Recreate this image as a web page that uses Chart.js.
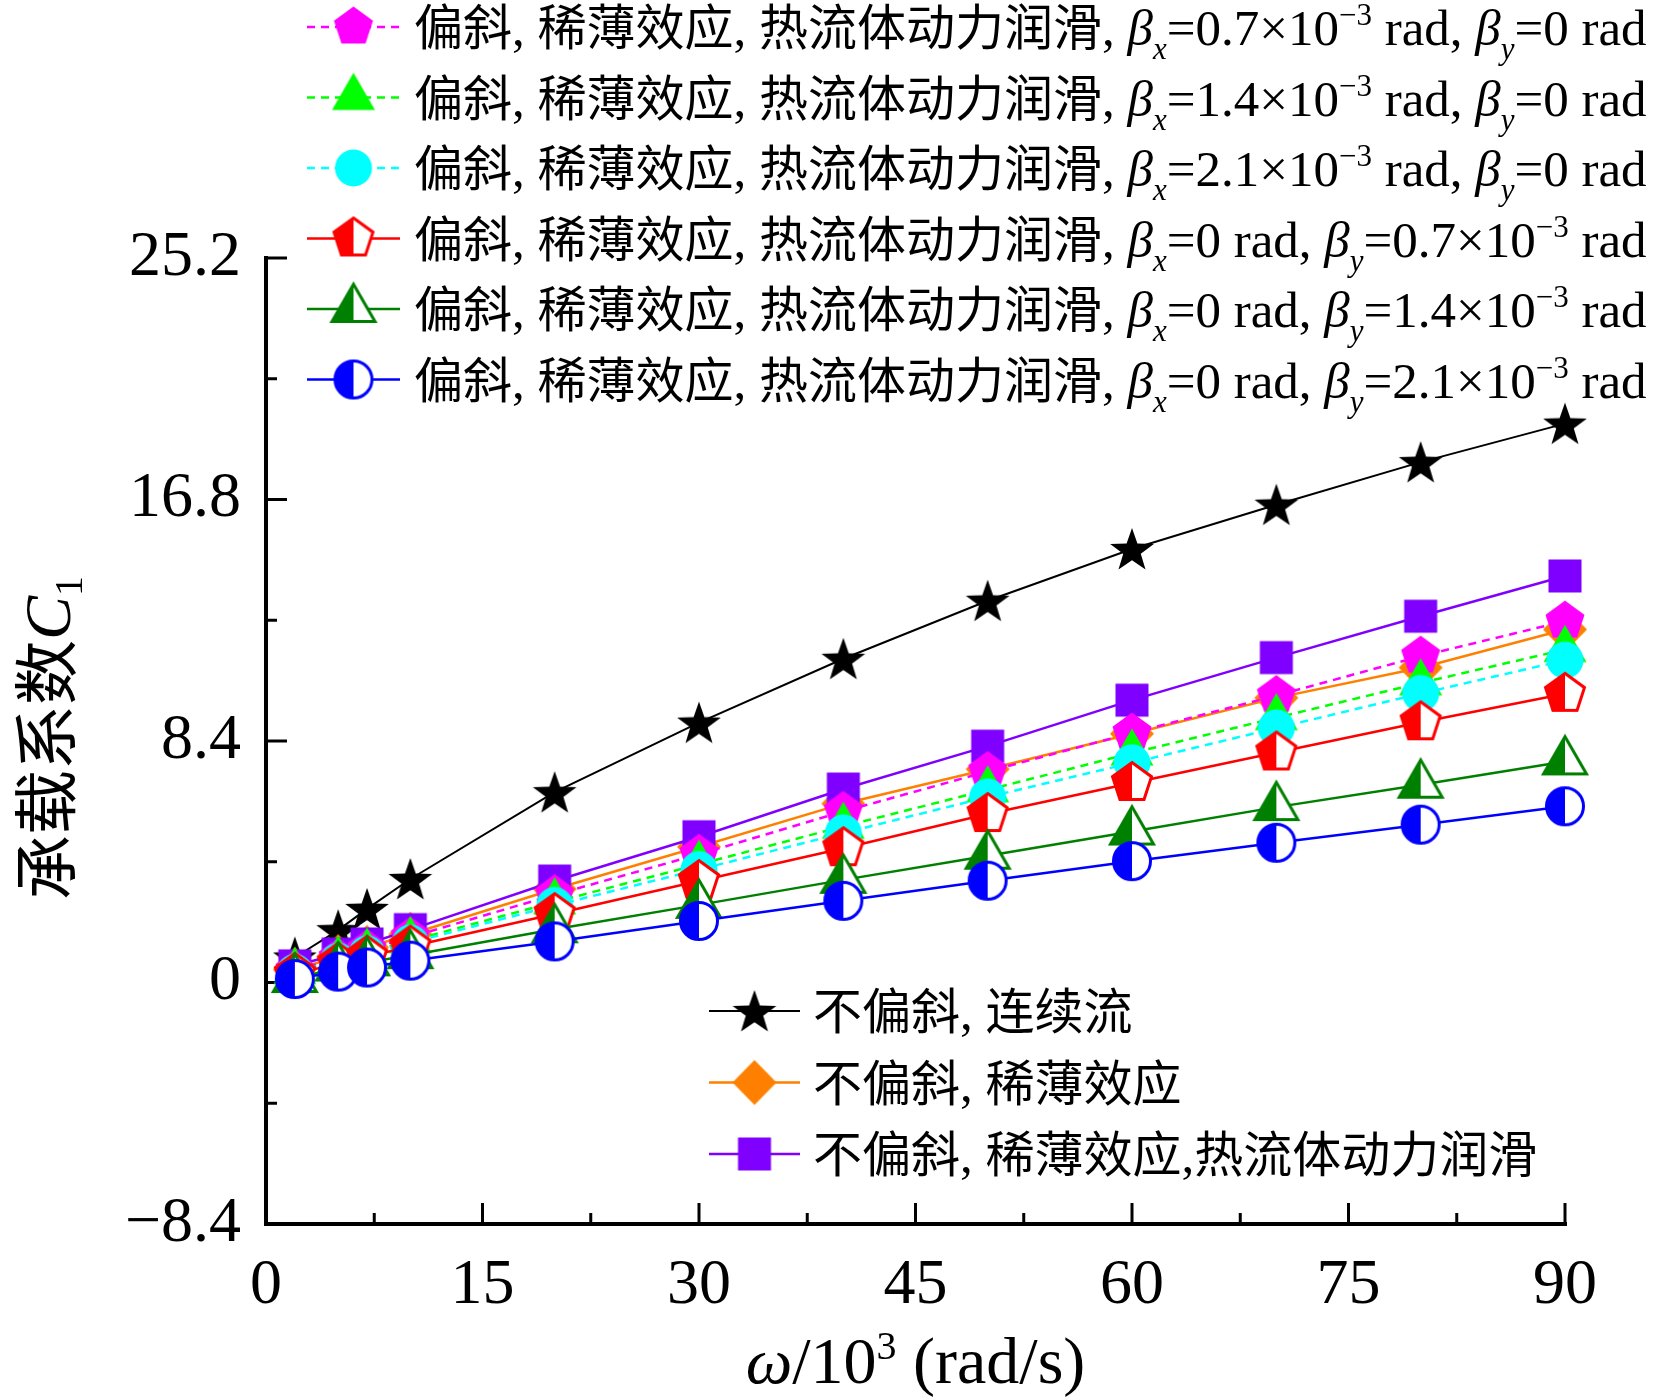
<!DOCTYPE html>
<html>
<head>
<meta charset="utf-8">
<script src="https://cdn.jsdelivr.net/npm/chart.js@4.4.1/dist/chart.umd.min.js"></script>
<style>
html, body { margin: 0; padding: 0; background: #fff; }
#wrap { width: 1659px; height: 1398px; }
</style>
</head>
<body>
<div id="wrap"><canvas id="chart" width="1659" height="1398"></canvas></div>
<script>
// rotational speed, omega / 10^3 (rad/s)
const omega = [2, 5, 7, 10, 20, 30, 40, 50, 60, 70, 80, 90];

// load capacity coefficient C1 for each case
const c1Continuum = [0.87, 1.82, 2.56, 3.60, 6.62, 9.04, 11.26, 13.28, 15.08, 16.62, 18.10, 19.44];
const c1Rarefied  = [0.45, 0.90, 1.22, 1.68, 3.25, 4.72, 6.22, 7.42, 8.65, 9.90, 10.95, 12.28];
const c1Thermal   = [0.58, 0.99, 1.34, 1.84, 3.53, 5.07, 6.73, 8.22, 9.82, 11.30, 12.74, 14.14];
const c1Bx07 = [0.42, 0.85, 1.15, 1.58, 3.05, 4.46, 5.95, 7.34, 8.68, 9.98, 11.35, 12.57];
const c1Bx14 = [0.38, 0.78, 1.05, 1.45, 2.80, 4.11, 5.43, 6.70, 7.98, 9.21, 10.42, 11.58];
const c1Bx21 = [0.35, 0.74, 1.00, 1.38, 2.68, 3.93, 5.20, 6.45, 7.64, 8.85, 10.05, 11.21];
const c1By07 = [0.30, 0.66, 0.90, 1.25, 2.38, 3.53, 4.67, 5.86, 6.94, 8.00, 9.05, 10.04];
const c1By14 = [0.12, 0.52, 0.70, 0.95, 1.85, 2.70, 3.57, 4.41, 5.25, 6.10, 6.88, 7.69];
const c1By21 = [0.12, 0.38, 0.52, 0.76, 1.43, 2.14, 2.84, 3.54, 4.22, 4.86, 5.49, 6.13];

// axis ticks
const xTicks = [0, 15, 30, 45, 60, 75, 90];
const xMinor = [7.5, 22.5, 37.5, 52.5, 67.5, 82.5];
const yTicks = [-8.4, 0, 8.4, 16.8, 25.2];
const yTickLabels = ['\u22128.4', '0', '8.4', '16.8', '25.2'];
const yMinor = [-4.2, 4.2, 12.6, 21.0];

// legend texts
const tiltPrefix = '偏斜, 稀薄效应, 热流体动力润滑, ';
const betaX = ['0.7', '1.4', '2.1', '0', '0', '0'];
const betaY = ['0', '0', '0', '0.7', '1.4', '2.1'];
const plainLabels = ['不偏斜, 连续流', '不偏斜, 稀薄效应', '不偏斜, 稀薄效应,热流体动力润滑'];

const CJK = '"Noto Sans CJK SC"';
const SERIF = '"Liberation Serif"';
const CS = 49;   // legend CJK size
const LS = 51;   // legend latin size
const SS = 31;   // sub / superscript size

// marker shapes
function shapePath(g, kind, c) {
    g.beginPath();
    if (kind === 'circle') {
        g.arc(c, c, 18.5, 0, Math.PI * 2);
    } else if (kind === 'square') {
        g.rect(c - 16.5, c - 16.5, 33, 33);
    } else if (kind === 'diamond') {
        g.moveTo(c, c - 22.5); g.lineTo(c + 22, c); g.lineTo(c, c + 22.5); g.lineTo(c - 22, c);
    } else if (kind === 'triangle') {
        const a = 43, h = a * Math.sqrt(3) / 2;
        g.moveTo(c, c - 2 * h / 3); g.lineTo(c + a / 2, c + h / 3); g.lineTo(c - a / 2, c + h / 3);
    } else if (kind === 'pentagon') {
        for (let k = 0; k < 5; k++) {
            const t = (-90 + 72 * k) * Math.PI / 180;
            g.lineTo(c + 20.5 * Math.cos(t), c + 20.5 * Math.sin(t));
        }
    } else if (kind === 'star') {
        for (let k = 0; k < 10; k++) {
            const r = k % 2 ? 23 * 0.4 : 23;
            const t = (-90 + 36 * k) * Math.PI / 180;
            g.lineTo(c + r * Math.cos(t), c + 2 + r * Math.sin(t));
        }
    }
    g.closePath();
}

function makeMarker(kind, color, half) {
    const s = 60, c = s / 2;
    const cv = document.createElement('canvas');
    cv.width = s; cv.height = s;
    const g = cv.getContext('2d');
    shapePath(g, kind, c);
    if (!half) {
        g.fillStyle = color;
        g.fill();
        return cv;
    }
    g.fillStyle = '#fff';
    g.fill();
    g.save();
    g.clip();
    g.fillStyle = color;
    g.fillRect(0, 0, c, s);
    g.restore();
    shapePath(g, kind, c);
    g.strokeStyle = color;
    g.lineWidth = 3;
    g.stroke();
    return cv;
}

// dataset index 0 is drawn on top
const series = [
    { values: c1By21, color: '#0000ff', kind: 'circle', half: true, dash: [], width: 2.5, legend: 5 },
    { values: c1By14, color: '#008000', kind: 'triangle', half: true, dash: [], width: 2.5, legend: 4 },
    { values: c1By07, color: '#ff0000', kind: 'pentagon', half: true, dash: [], width: 2.5, legend: 3 },
    { values: c1Bx21, color: '#00ffff', kind: 'circle', half: false, dash: [8, 6], width: 2.5, legend: 2 },
    { values: c1Bx14, color: '#00ff00', kind: 'triangle', half: false, dash: [8, 6], width: 2.5, legend: 1 },
    { values: c1Bx07, color: '#ff00ff', kind: 'pentagon', half: false, dash: [8, 6], width: 2.5, legend: 0 },
    { values: c1Thermal, color: '#8000ff', kind: 'square', half: false, dash: [], width: 2.5, legend: 8 },
    { values: c1Rarefied, color: '#ff8000', kind: 'diamond', half: false, dash: [], width: 2.5, legend: 7 },
    { values: c1Continuum, color: '#000000', kind: 'star', half: false, dash: [], width: 2, legend: 6 }
];
series.forEach(s => { s.img = makeMarker(s.kind, s.color, s.half); });

// rich text helpers
function splitRuns(str) {
    const parts = [];
    for (const ch of str) {
        const f = /[\u3000-\u9fff\uff00-\uffef]/.test(ch) ? CS + 'px ' + CJK : LS + 'px ' + SERIF;
        const last = parts[parts.length - 1];
        if (last && last.f === f) last.t += ch; else parts.push({ t: ch, f: f });
    }
    return parts;
}

function valueParts(v) {
    const lat = LS + 'px ' + SERIF;
    if (v === '0') return [{ t: '=0 rad', f: lat }];
    return [{ t: '=' + v + '\u00d710', f: lat }, { t: '\u22123', f: SS + 'px ' + SERIF, dy: -20 }, { t: ' rad', f: lat }];
}

function tiltParts(i) {
    const it = 'italic ' + LS + 'px ' + SERIF;
    const sub = 'italic ' + SS + 'px ' + SERIF;
    return [
        ...splitRuns(tiltPrefix),
        { t: '\u03b2', f: it }, { t: 'x', f: sub, dy: 14 },
        ...valueParts(betaX[i]),
        { t: ', ', f: LS + 'px ' + SERIF },
        { t: '\u03b2', f: it }, { t: 'y', f: sub, dy: 14 },
        ...valueParts(betaY[i])
    ];
}

function measureRich(ctx, parts) {
    let w = 0;
    parts.forEach(p => { ctx.font = p.f; w += ctx.measureText(p.t).width; });
    return w;
}

function drawRich(ctx, parts, x, y) {
    let cx = x;
    parts.forEach(p => {
        ctx.font = p.f;
        ctx.fillText(p.t, cx, y + (p.dy || 0));
        cx += ctx.measureText(p.t).width;
    });
}

function legendRow(ctx, s, x0, x1, y, textX, parts) {
    ctx.save();
    ctx.strokeStyle = s.color;
    ctx.lineWidth = s.width;
    ctx.setLineDash(s.dash);
    ctx.beginPath();
    ctx.moveTo(x0, y);
    ctx.lineTo(x1, y);
    ctx.stroke();
    ctx.restore();
    ctx.drawImage(s.img, (x0 + x1) / 2 - s.img.width / 2, y - s.img.height / 2);
    ctx.fillStyle = '#000';
    ctx.textBaseline = 'alphabetic';
    drawRich(ctx, parts, textX, y + 18);
}

const whiteBg = {
    id: 'whiteBg',
    beforeDraw(chart) {
        const ctx = chart.ctx;
        ctx.save();
        ctx.fillStyle = '#fff';
        ctx.fillRect(0, 0, chart.width, chart.height);
        ctx.restore();
    }
};

// axis lines with inward major and minor ticks
const axesPlugin = {
    id: 'axes',
    beforeDatasetsDraw(chart) {
        const { ctx, chartArea: a, scales: { x, y } } = chart;
        const top = y.getPixelForValue(yTicks[yTicks.length - 1]);
        const right = x.getPixelForValue(xTicks[xTicks.length - 1]);
        ctx.save();
        ctx.strokeStyle = '#000';
        ctx.lineWidth = 4;
        ctx.lineCap = 'square';
        ctx.beginPath();
        ctx.moveTo(a.left, top);
        ctx.lineTo(a.left, a.bottom);
        ctx.lineTo(right, a.bottom);
        ctx.stroke();
        ctx.lineCap = 'butt';
        ctx.lineWidth = 3;
        const hTick = (v, len) => {
            const py = y.getPixelForValue(v);
            ctx.beginPath(); ctx.moveTo(a.left, py); ctx.lineTo(a.left + len, py); ctx.stroke();
        };
        const vTick = (v, len) => {
            const px = x.getPixelForValue(v);
            ctx.beginPath(); ctx.moveTo(px, a.bottom); ctx.lineTo(px, a.bottom - len); ctx.stroke();
        };
        yTicks.forEach(v => hTick(v, 21));
        yMinor.forEach(v => hTick(v, 11));
        xTicks.forEach(v => vTick(v, 21));
        xMinor.forEach(v => vTick(v, 11));
        ctx.restore();
    }
};

// legends and axis titles
const textPlugin = {
    id: 'texts',
    afterDraw(chart) {
        const ctx = chart.ctx;
        ctx.save();
        const byLegend = [];
        series.forEach(s => { byLegend[s.legend] = s; });
        for (let i = 0; i < 6; i++) {
            legendRow(ctx, byLegend[i], 307, 400, 27 + i * 70.5, 414, tiltParts(i));
        }
        plainLabels.forEach((lbl, i) => {
            legendRow(ctx, byLegend[6 + i], 709, 800, 1011 + i * 71.5, 813, splitRuns(lbl));
        });

        // x title
        const xt = [
            { t: '\u03c9', f: 'italic 66px ' + SERIF },
            { t: '/10', f: '66px ' + SERIF },
            { t: '3', f: '40px ' + SERIF, dy: -24 },
            { t: ' (rad/s)', f: '66px ' + SERIF }
        ];
        const cx = (chart.chartArea.left + chart.chartArea.right) / 2;
        ctx.fillStyle = '#000';
        drawRich(ctx, xt, cx - measureRich(ctx, xt) / 2, 1383);

        // y title
        const yt = [
            { t: '承载系数', f: '65px ' + CJK },
            { t: 'C', f: 'italic 66px ' + SERIF },
            { t: '1', f: '40px ' + SERIF, dy: 12 }
        ];
        const cy = (chart.chartArea.top + chart.chartArea.bottom) / 2 - 3;
        ctx.translate(70, cy);
        ctx.rotate(-Math.PI / 2);
        drawRich(ctx, yt, -measureRich(ctx, yt) / 2, 0);
        ctx.restore();
    }
};

const tickFont = { family: 'Liberation Serif', size: 64 };

new Chart(document.getElementById('chart').getContext('2d'), {
    type: 'line',
    data: {
        datasets: series.map(s => ({
            data: omega.map((w, i) => ({ x: w, y: s.values[i] })),
            borderColor: s.color,
            backgroundColor: s.color,
            borderWidth: s.width,
            borderDash: s.dash,
            pointStyle: s.img,
            pointRadius: 18,
            pointHoverRadius: 18,
            tension: 0,
            fill: false,
            clip: false
        }))
    },
    options: {
        responsive: false,
        animation: false,
        events: [],
        layout: { padding: { top: 258, right: 94, left: 0, bottom: 0 } },
        plugins: {
            legend: { display: false },
            tooltip: { enabled: false }
        },
        scales: {
            x: {
                type: 'linear',
                min: 0,
                max: 90,
                grid: { display: false, drawTicks: false },
                border: { display: false },
                afterBuildTicks: s => { s.ticks = xTicks.map(v => ({ value: v })); },
                afterFit: s => { s.height = 174; },
                ticks: {
                    font: tickFont,
                    color: '#000',
                    padding: 24,
                    maxRotation: 0,
                    autoSkip: false,
                    callback: v => String(v)
                }
            },
            y: {
                type: 'linear',
                min: -8.4,
                max: 25.2,
                grid: { display: false, drawTicks: false },
                border: { display: false },
                afterBuildTicks: s => { s.ticks = yTicks.map(v => ({ value: v })); },
                afterFit: s => { s.width = 266; },
                ticks: {
                    font: tickFont,
                    color: '#000',
                    padding: 25,
                    autoSkip: false,
                    callback: (v, i) => yTickLabels[i]
                }
            }
        }
    },
    plugins: [whiteBg, axesPlugin, textPlugin]
});
</script>
</body>
</html>
